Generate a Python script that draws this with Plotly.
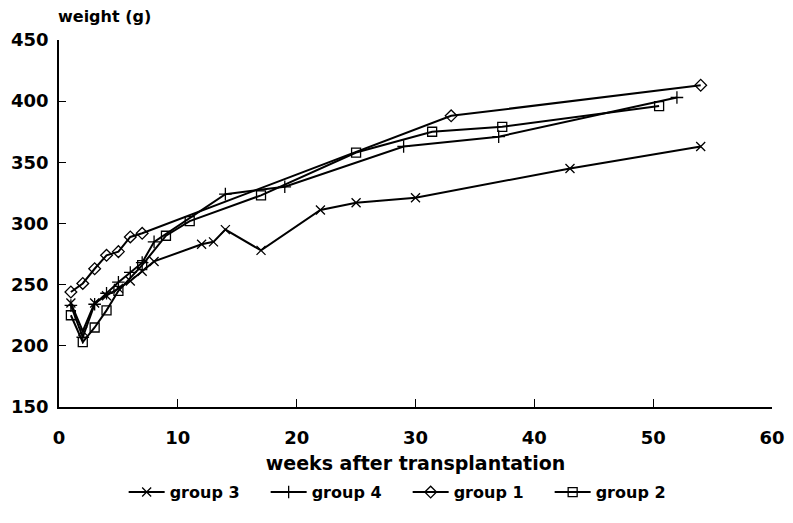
import plotly.graph_objects as go

# Data
g3_weeks = [1, 2, 3, 4, 5, 6, 7, 8, 12, 13, 14, 17, 22, 25, 30, 43, 54]
g3_weight = [235, 212, 235, 241, 247, 253, 261, 269, 283, 285, 295, 278, 311, 317, 321, 345, 363]

g4_weeks = [1, 2, 3, 4, 5, 6, 7, 8, 14, 19, 29, 37, 52]
g4_weight = [233, 207, 234, 243, 252, 260, 268, 285, 324, 330, 363, 371, 403]

g1_weeks = [1, 2, 3, 4, 5, 6, 7, 33, 54]
g1_weight = [244, 251, 263, 274, 277, 289, 292, 388, 413]

g2_weeks = [1, 2, 3, 4, 5, 7, 9, 11, 17, 25, 31.4, 37.3, 50.5]
g2_weight = [225, 203, 215, 229, 245, 266, 290, 302, 323, 358, 375, 379, 396]

x_ticks = [0, 10, 20, 30, 40, 50, 60]
y_ticks = [150, 200, 250, 300, 350, 400, 450]

FONT = "DejaVu Sans"

fig = go.Figure()
series = [
    ("group 3", g3_weeks, g3_weight, "x-thin"),
    ("group 4", g4_weeks, g4_weight, "cross-thin"),
    ("group 1", g1_weeks, g1_weight, "diamond-open"),
    ("group 2", g2_weeks, g2_weight, "square-open"),
]
for name, xs, ys, sym in series:
    fig.add_trace(go.Scatter(
        x=xs, y=ys, name=name, mode="lines+markers",
        line=dict(color="black", width=2),
        marker=dict(symbol=sym, size=9, color="black",
                    line=dict(color="black", width=1.3)),
    ))

fig.update_layout(
    width=793, height=523,
    margin=dict(l=51, r=29, t=32, b=124, autoexpand=False),
    paper_bgcolor="white", plot_bgcolor="white",
    font=dict(family=FONT, size=16, color="black"),
    showlegend=True,
    legend=dict(orientation="h", x=0.489, xanchor="center", y=-0.232, yanchor="middle",
                font=dict(family=FONT, size=16, color="black", weight="bold"),
                entrywidth=91, entrywidthmode="pixels", itemwidth=36),
    annotations=[dict(text="weight (g)", xref="paper", yref="paper", x=0, y=1,
                      xanchor="left", yanchor="bottom", yshift=12, xshift=-3,
                      showarrow=False,
                      font=dict(family=FONT, size=16, color="black", weight="bold"))],
)
fig.update_xaxes(range=[0, 60], tickvals=x_ticks, ticks="inside", ticklen=8,
                 tickcolor="black", showline=True, linecolor="black", linewidth=1.5,
                 showgrid=False, zeroline=False, mirror=False, automargin=False,
                 ticklabelstandoff=14,
                 tickfont=dict(family=FONT, size=18, color="black", weight="bold"),
                 title=dict(text="weeks after transplantation", standoff=9,
                            font=dict(family=FONT, size=19, color="black", weight="bold")))
fig.update_yaxes(range=[150, 450], tickvals=y_ticks, ticks="inside", ticklen=7,
                 tickcolor="black", showline=True, linecolor="black", linewidth=1.5,
                 showgrid=False, zeroline=False, automargin=False,
                 ticklabelstandoff=5,
                 tickfont=dict(family=FONT, size=18, color="black", weight="bold"))

fig.write_html("out.html")
